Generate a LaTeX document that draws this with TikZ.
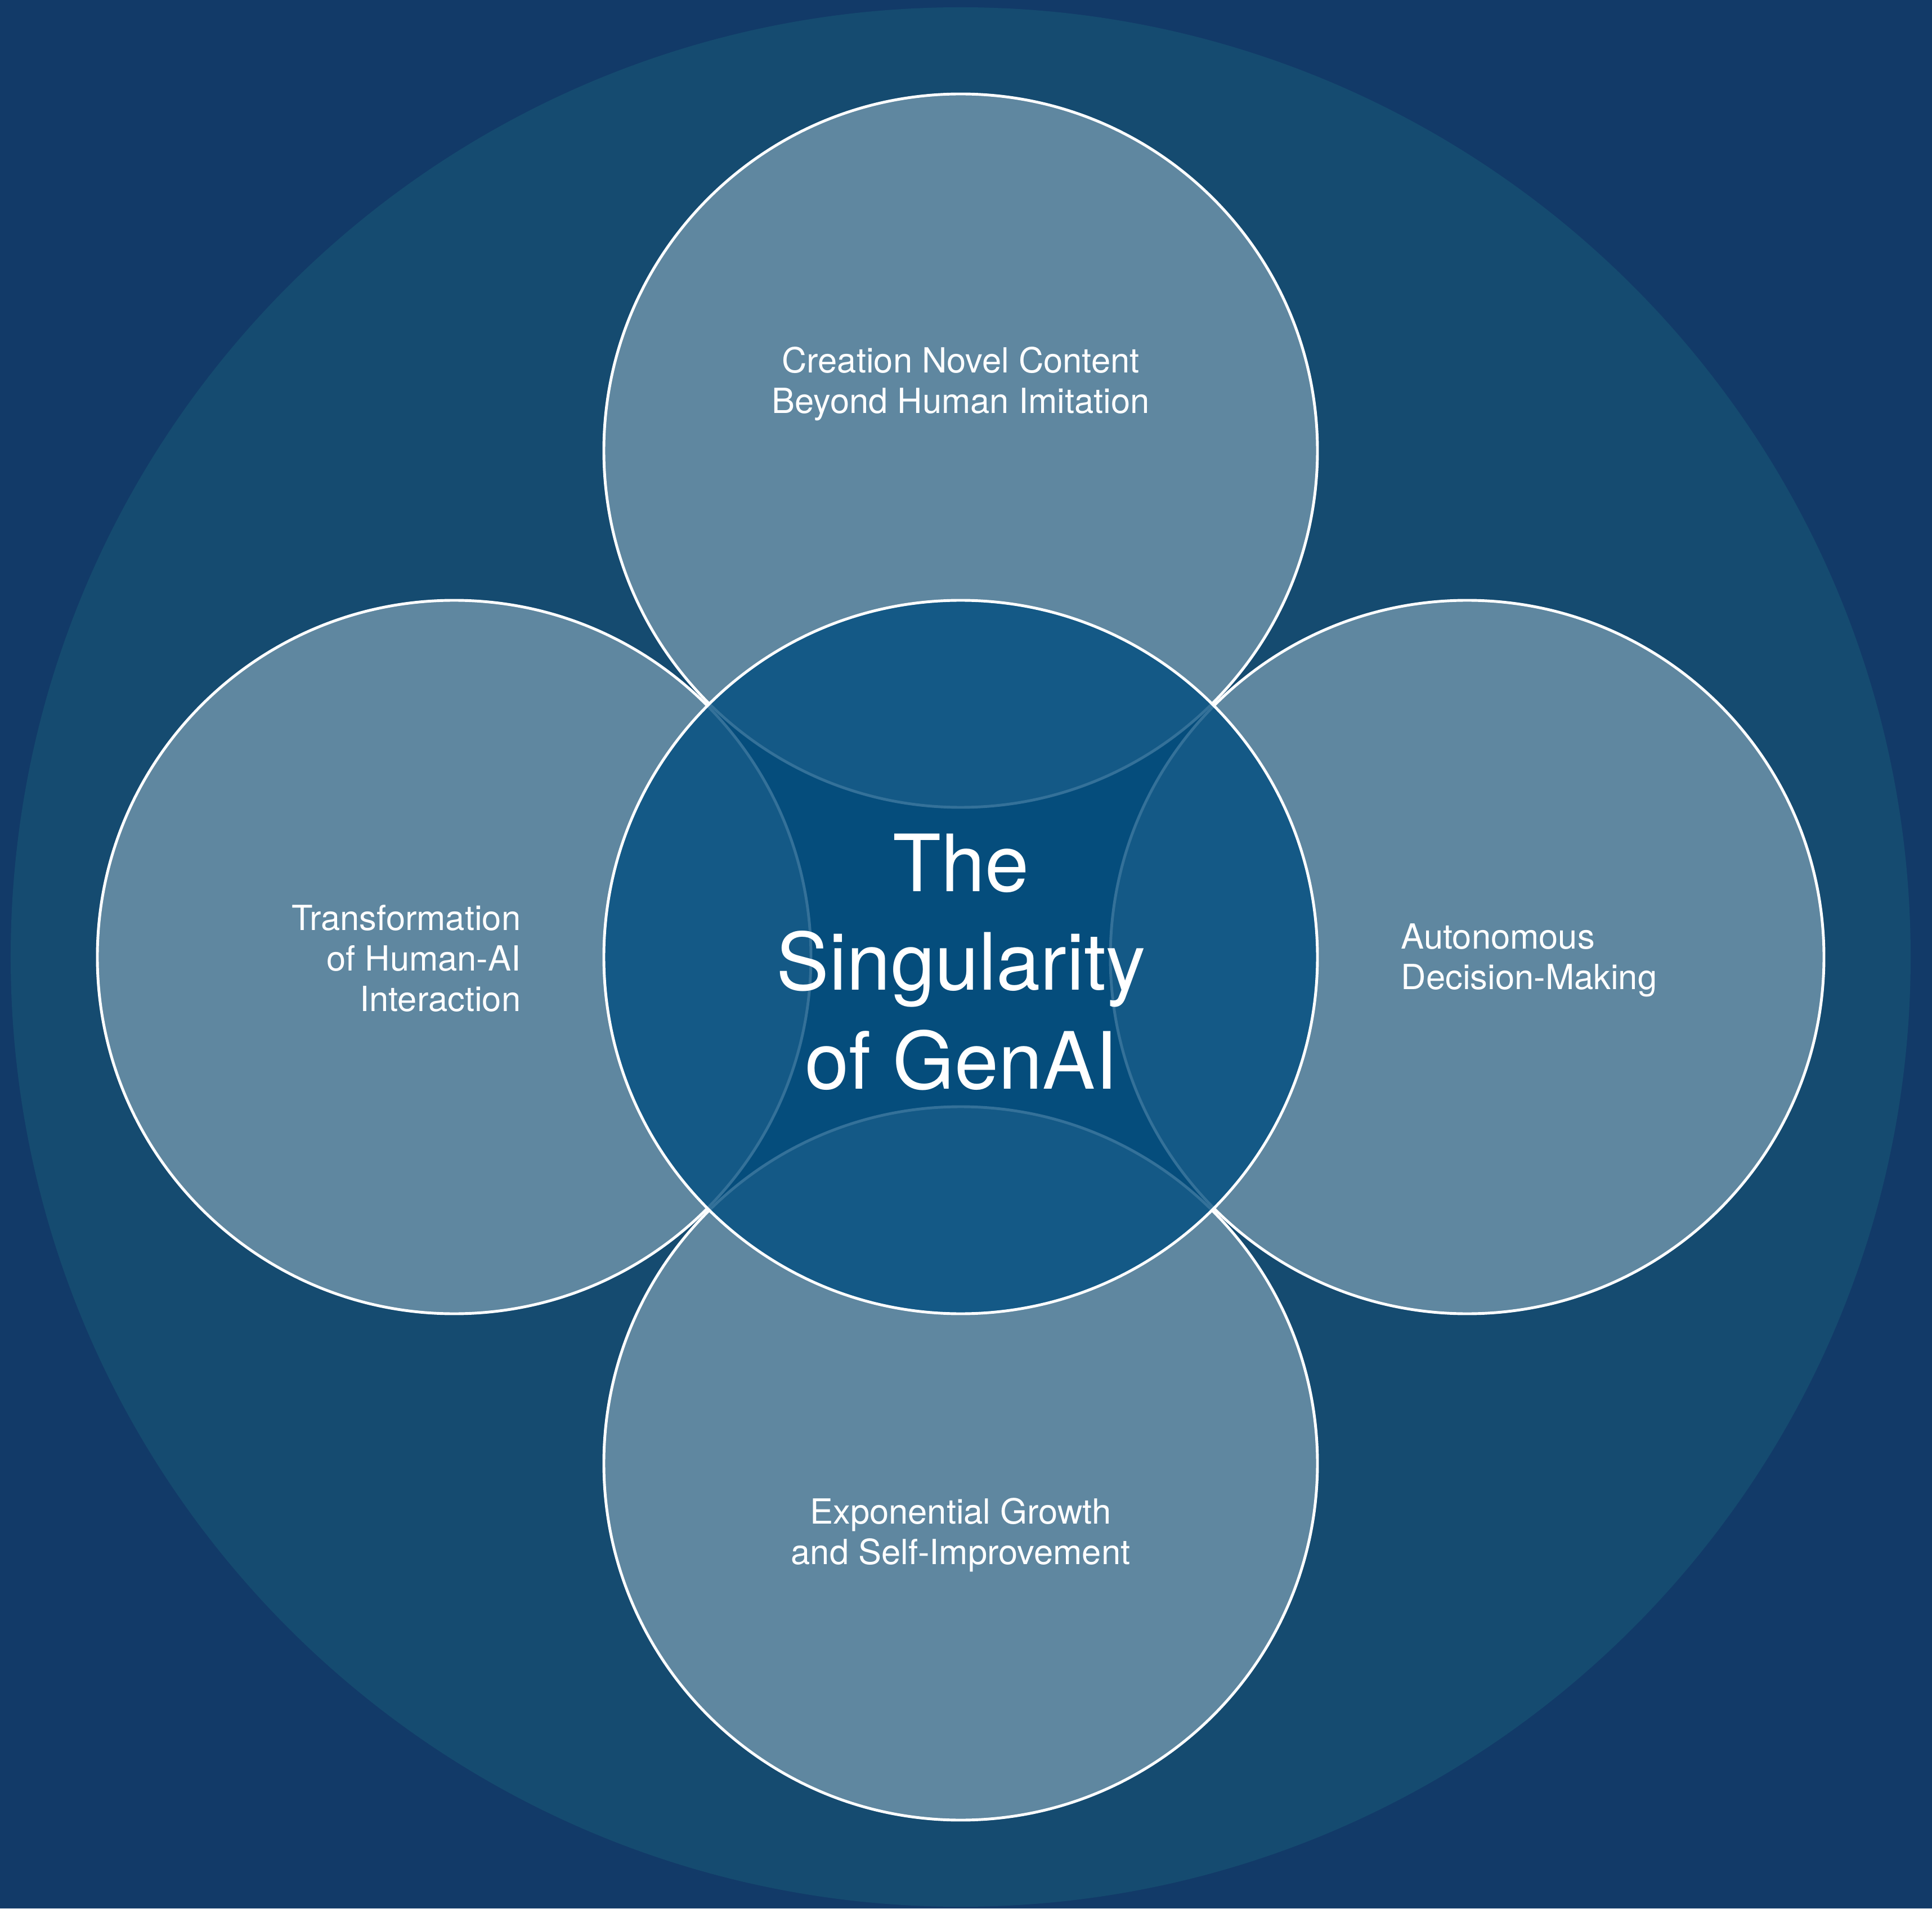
\documentclass[tikz,border=0pt]{standalone}
\usepackage{fontspec}
\setmainfont{TeX Gyre Heros}
\usetikzlibrary{positioning}

\definecolor{navybg}{RGB}{18,58,104}
\definecolor{ringblue}{RGB}{21,75,112}
\definecolor{petalblue}{RGB}{95,135,160}
\definecolor{coreblue}{RGB}{2,78,128}

\begin{document}
\begin{tikzpicture}[
    petal/.style={
        circle,
        draw=white,
        line width=1.4pt,
        fill=petalblue,
        minimum size=12.68cm,
        inner sep=0pt
    },
    core/.style={
        circle,
        draw=white,
        line width=1.4pt,
        fill=coreblue,
        fill opacity=0.8,
        text opacity=1,
        text=white,
        minimum size=12.68cm,
        inner sep=0pt,
        align=center,
        font=\fontsize{40}{50}\selectfont
    },
    petal text/.style={
        text=white,
        inner sep=0pt,
        font=\fontsize{17.5}{20.5}\selectfont
    },
    ]
    % background and big ring
    \fill[navybg] (-17.07,-16.91) rectangle (17.26,17.01);
    \useasboundingbox (-17.07,-16.91) rectangle (17.26,17.01);
    \node[circle, fill=ringblue, minimum size=33.76cm, inner sep=0pt] (ring) at (0,0) {};

    % the four petals
    \node[petal] (creation) at (0,9) {};
    \node[petal] (growth) at (0,-9) {};
    \node[petal] (interaction) at (-9,0) {};
    \node[petal] (decision) at (9,0) {};

    % centre on top
    \node[core] (singularity) at (0,0) {};
    \node[core, draw=none, fill=none] (singularitytext) at (0.01,-0.09) {The\\Singularity\\of GenAI};

    % petal labels
    \node[petal text, align=center] (creationtext) at ([yshift=1.19cm]creation.center)
        {Creation Novel Content\\Beyond Human Imitation};
    \node[petal text, align=center] (growthtext) at ([yshift=-1.27cm]growth.center)
        {Exponential Growth\\and Self-Improvement};
    \node[petal text, align=right, anchor=east] (interactiontext) at (-7.81,-0.02)
        {Transformation\\of Human-AI\\Interaction};
    \node[petal text, align=left, anchor=west] (decisiontext) at (7.82,-0.06)
        {Autonomous\\Decision-Making};
\end{tikzpicture}
\end{document}
